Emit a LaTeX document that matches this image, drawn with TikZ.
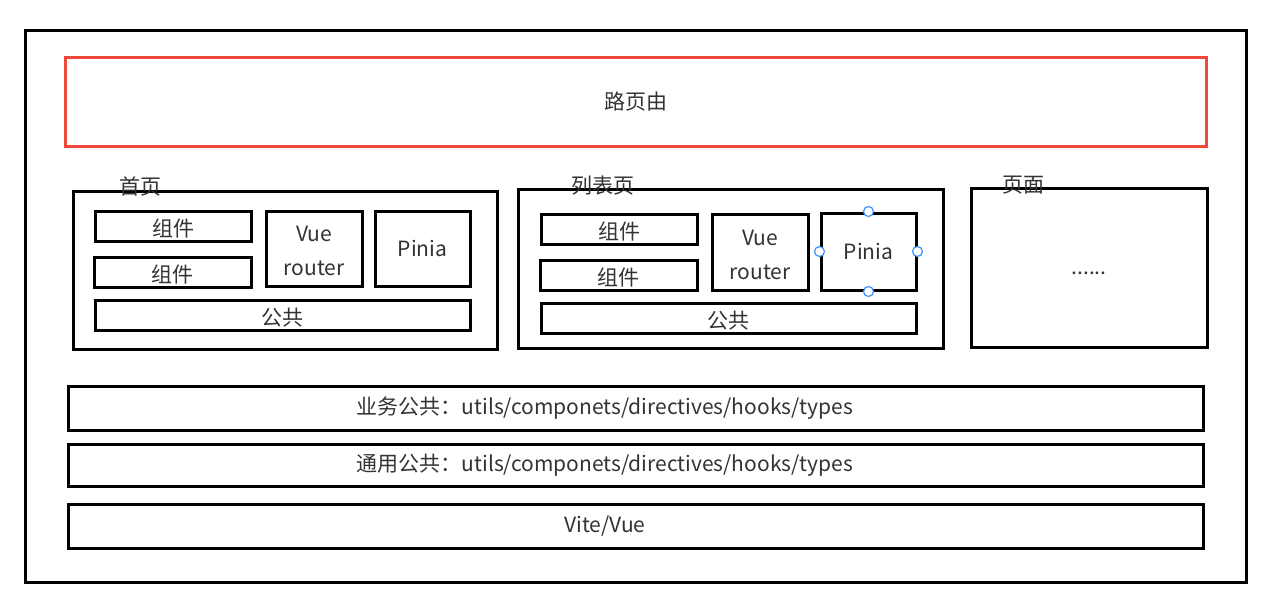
\documentclass[tikz,border=0pt]{standalone}
\usepackage{fontspec}
\setmainfont{Noto Sans CJK SC}
\definecolor{txt}{HTML}{333333}
\definecolor{redline}{RGB}{240,72,58}
\definecolor{handleblue}{RGB}{60,150,250}
\newcommand\mybox[7]{\node[#1, minimum width={(#5-#3)*1pt}, minimum height={(#6-#4)*1pt}] (#2) at ({(#3+#5)/2},{(#4+#6)/2}) {#7};}
\newcommand\low[1]{\raisebox{-2.5pt}[\height][\depth]{#1}}
\newcommand\leftby[1]{\hspace*{-61pt}#1}
\tikzset{
  box/.style={draw=black, line width=3pt, inner sep=0pt, text=txt, font=\fontsize{21}{34}\selectfont, align=center},
  bar/.style={draw=black, line width=3pt, inner sep=0pt, text=txt, font=\fontsize{21}{25}\selectfont},
  redbox/.style={bar, draw=redline},
  lbl/.style={inner sep=0pt, text=txt, font=\fontsize{21}{25}\selectfont},
  handle/.style={circle, draw=handleblue, fill=white, line width=1.2pt, minimum size=10pt, inner sep=0pt}
}
\begin{document}
\begin{tikzpicture}[x=1pt,y=-1pt]
\useasboundingbox[fill=white] (0,0) rectangle (1265,606);
% outer frame
\mybox{box}{outer}{25}{30}{1246}{582}{}
% router bar
\mybox{redbox}{router}{65}{57}{1206}{146}{路页由}
% page 1
\mybox{box}{home}{73}{191}{497}{349}{}
\mybox{box}{hc1}{95}{211}{251}{241}{\low{组件}}
\mybox{box}{hc2}{94}{257}{251}{287}{\low{组件}}
\mybox{box}{hvr}{266}{211}{362}{286}{\low{Vue}\\\low{router}}
\mybox{box}{hpi}{375}{211}{470}{286}{Pinia}
\mybox{box}{hpub}{95}{300}{470}{330}{\low{公共}}
\node[lbl] (homelbl) at (140,187) {首页};
% page 2
\mybox{box}{list}{518}{189}{943}{348}{}
\mybox{box}{lc1}{541}{214}{697}{244}{\low{组件}}
\mybox{box}{lc2}{540}{260}{697}{290}{\low{组件}}
\mybox{box}{lvr}{712}{214}{808}{290}{\low{Vue}\\\low{router}}
\mybox{box}{lpi}{821}{213}{916}{290}{Pinia}
\mybox{box}{lpub}{541}{303}{916}{333}{\low{公共}}
\node[lbl] (listlbl) at (603,186) {列表页};
\node[handle] (h1) at (lpi.north) {};
\node[handle] (h2) at (lpi.south) {};
\node[handle] (h3) at (lpi.west) {};
\node[handle] (h4) at (lpi.east) {};
% page 3
\mybox{box}{other}{971}{188}{1207}{347}{\raisebox{-6pt}[\height][\depth]{......}}
\node[lbl] (otherlbl) at (1023,185) {页面};
% layers
\mybox{bar}{biz}{68}{386}{1203}{430}{\leftby{业务公共：utils/componets/directives/hooks/types}}
\mybox{bar}{gen}{68}{444}{1203}{486}{\leftby{通用公共：utils/componets/directives/hooks/types}}
\mybox{bar}{base}{68}{504}{1203}{548}{\leftby{Vite/Vue}}
\end{tikzpicture}
\end{document}
